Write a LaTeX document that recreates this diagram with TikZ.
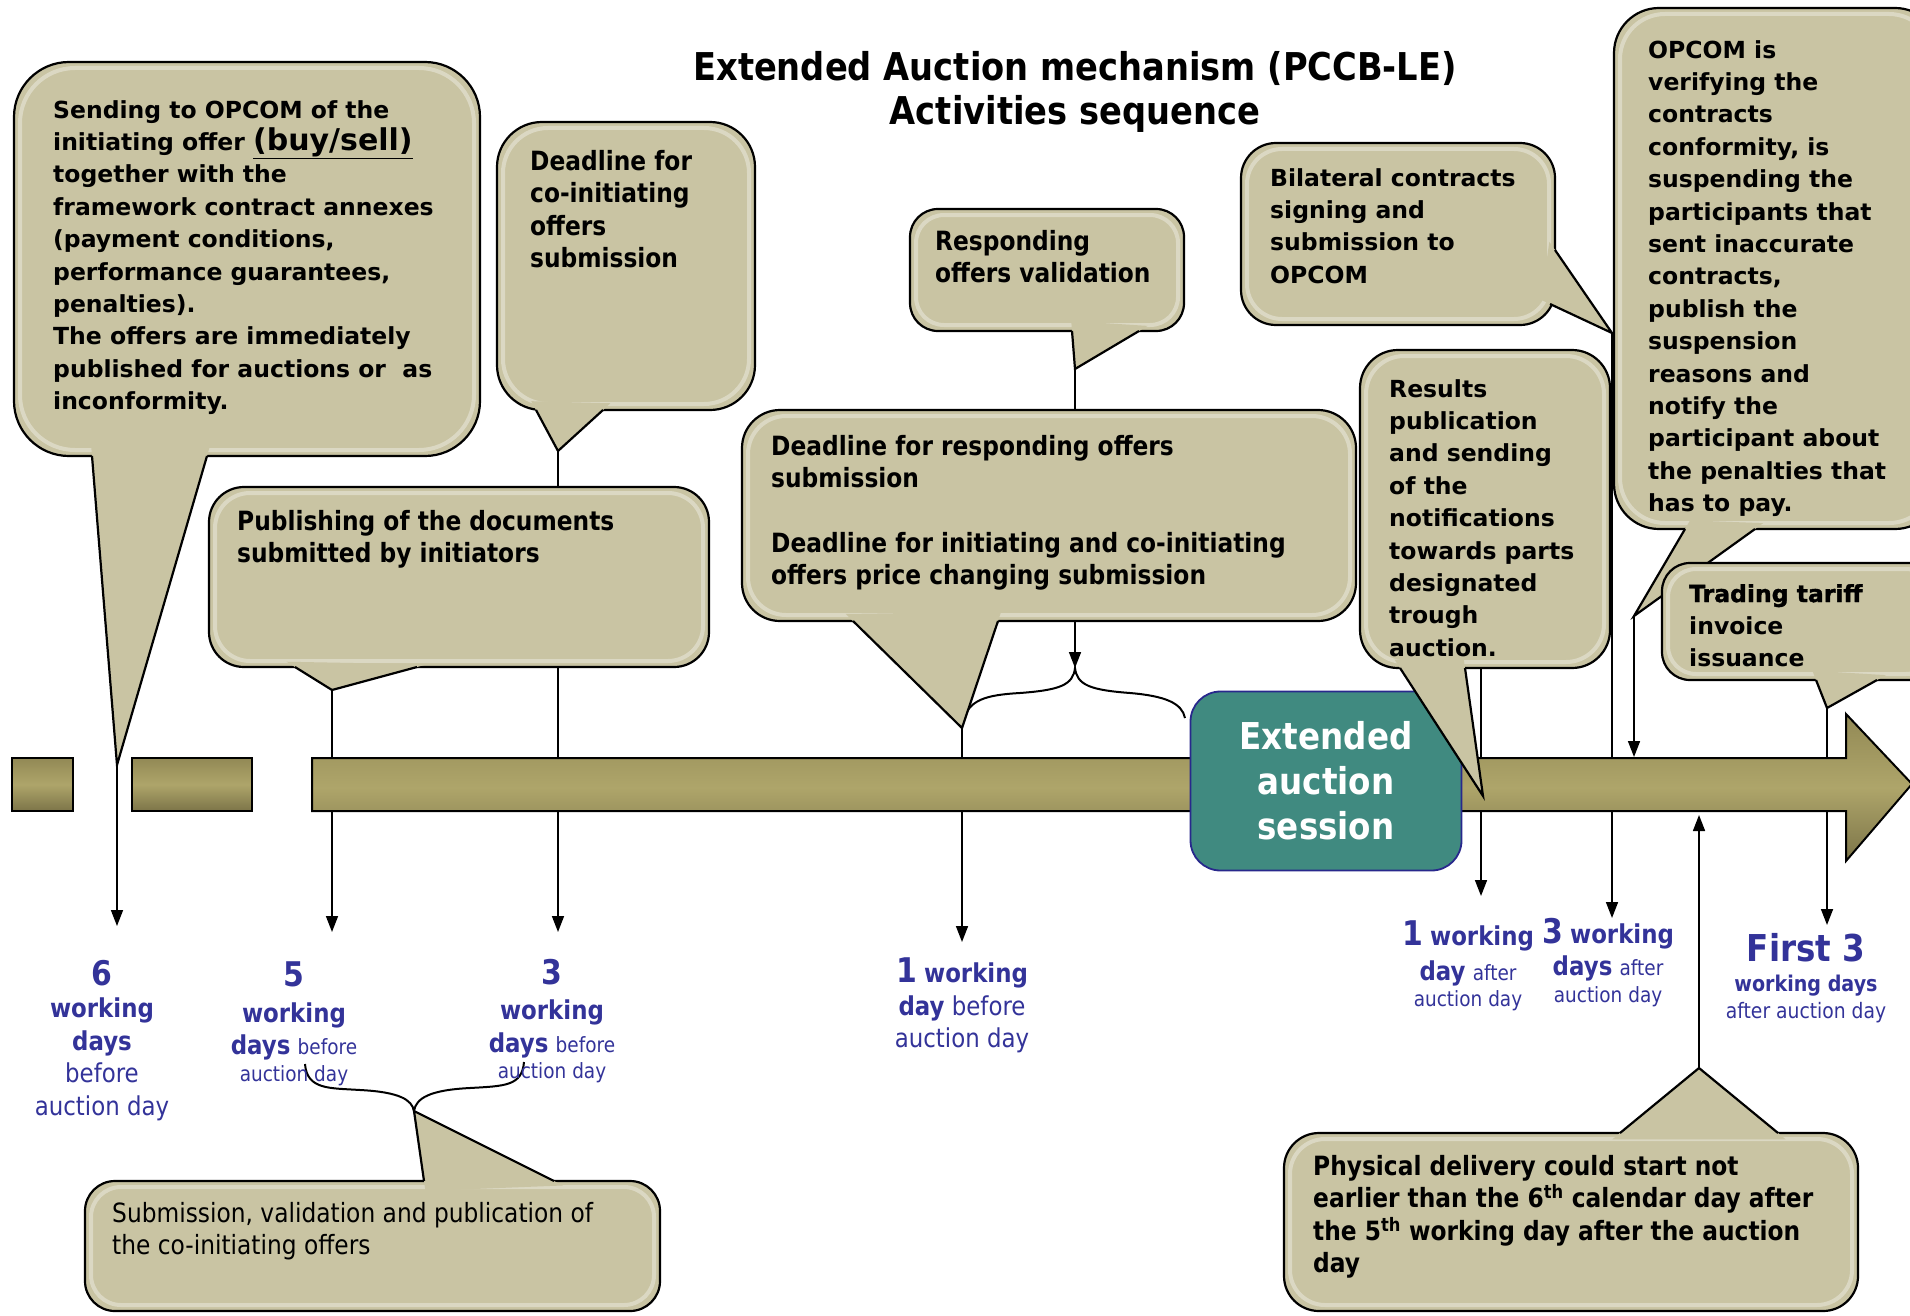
\documentclass[tikz,border=0pt]{standalone}
\usepackage{fontspec}
\setmainfont{DejaVu Sans}
\newfontfamily\condsf[FakeStretch=0.88]{DejaVu Sans}
\usetikzlibrary{calc,arrows.meta}

% callout: [corner radius]{top left}{bottom right}{tail base 1}{tail base 2}{tail tip}
\newcommand{\bubble}[6][35pt]{%
  \draw[bubble, rounded corners=#1] #2 rectangle #3;
  \draw[bubble glow, rounded corners=#1] ($#2+(6,6)$) rectangle ($#3+(-6,-6)$);
  \fill[bubblecol] ($#4!-10pt!#6$) -- #6 -- ($#5!-10pt!#6$) -- cycle;
  \draw[bubble edge] #4 -- #6 -- #5;
}

\begin{document}
\begin{tikzpicture}[x=1pt, y=-1pt,
  bubble/.style={fill=bubblecol, draw=black, line width=2.2pt},
  bubble glow/.style={draw=white, opacity=0.35, line width=4pt},
  bubble edge/.style={draw=black, line width=2.2pt, line join=miter},
  link/.style={line width=1.6pt},
  brace/.style={line width=2pt},
  boxtxt/.style={anchor=north west, inner sep=0pt, align=left,
    font=\bfseries\fontsize{23.5}{32.4}\selectfont},
  condtxt/.style={anchor=north west, inner sep=0pt, align=left,
    font=\condsf\bfseries\fontsize{26.5}{32.4}\selectfont},
  daylab/.style={anchor=north, inner sep=0pt, align=center, text=daycol,
    font=\condsf\fontsize{26}{32.5}\selectfont},
  >={Triangle[length=16pt, width=12pt]}]
  % Define colors
  \definecolor{bubblecol}{RGB}{201,196,163}
  \definecolor{barcol}{RGB}{146,137,85}
  \definecolor{barlight}{RGB}{174,165,106}
  \definecolor{sessioncol}{RGB}{64,138,128}
  \definecolor{sessionedge}{RGB}{40,40,140}
  \definecolor{daycol}{RGB}{51,51,153}

  \useasboundingbox (0,0) rectangle (1910,1316);

  % Tail tips and connector ends
  \coordinate (tipA) at (117,765);   \coordinate (endA) at (117,926);
  \coordinate (tipB) at (558,451);   \coordinate (endB) at (558,932);
  \coordinate (tipC) at (332,690);   \coordinate (endC) at (332,932);
  \coordinate (tipD) at (1075,369);  \coordinate (topE) at (1075,412);
  \coordinate (botE) at (1075,621);  \coordinate (braceE) at (1075,668);
  \coordinate (tipE) at (962,728);   \coordinate (endE) at (962,942);
  \coordinate (tipF) at (1612,333);  \coordinate (endF) at (1612,918);
  \coordinate (tipG) at (1483,796);  \coordinate (botG) at (1481,668);
  \coordinate (endG) at (1481,896);
  \coordinate (tipH) at (1634,616);  \coordinate (endH) at (1634,757);
  \coordinate (tipI) at (1827,708);  \coordinate (endI) at (1827,925);
  \coordinate (tipJ) at (414,1111);
  \coordinate (tipK) at (1699,1068); \coordinate (endK) at (1699,815);

  % Connectors
  \draw[link, ->] (tipA) -- (endA);
  \draw[link, ->] (tipB) -- (endB);
  \draw[link, ->] (tipC) -- (endC);
  \draw[link] (tipD) -- (topE);
  \draw[link, ->] (botE) -- (braceE);
  \draw[link, ->] (tipE) -- (endE);
  \draw[link, ->] (tipF) -- (endF);
  \draw[link, ->] (botG) -- (endG);
  \draw[link, ->] (tipH) -- (endH);
  \draw[link, ->] (tipI) -- (endI);
  \draw[link, ->] (tipK) -- (endK);

  % Braces
  \draw[brace] (963,722) .. controls (968,700) and (985,695) .. (1020,693)
    .. controls (1060,690) and (1073,685) .. (braceE)
    .. controls (1077,685) and (1090,690) .. (1130,693)
    .. controls (1165,696) and (1182,703) .. (1185,718);
  \draw[brace] (305,1064) .. controls (307,1090) and (330,1088) .. (360,1090)
    .. controls (400,1092) and (412,1100) .. (tipJ)
    .. controls (416,1098) and (430,1090) .. (470,1088)
    .. controls (505,1086) and (522,1086) .. (524,1062);

  % Time line
  \path[draw=black, line width=2pt, top color=barcol, bottom color=barcol!85!black,
    middle color=barlight] (12,758) rectangle (73,811);
  \path[draw=black, line width=2pt, top color=barcol, bottom color=barcol!85!black,
    middle color=barlight] (132,758) rectangle (252,811);
  \path[draw=black, line width=2pt, top color=barcol, bottom color=barcol!85!black,
    middle color=barlight] (312,758) -- (1846,758) -- (1846,714) -- (1912,784)
    -- (1846,861) -- (1846,811) -- (312,811) -- cycle;

  \node[fill=sessioncol, draw=sessionedge, line width=1.8pt, rounded corners=30pt,
    minimum width=271pt, minimum height=179pt, text=white, align=center,
    font=\condsf\bfseries\fontsize{37}{45}\selectfont] (session) at (1326,781)
    {Extended\\auction\\session};

  % Callouts
  \bubble[55pt]{(14,62)}{(480,456)}{(92,456)}{(207,456)}{(tipA)}
  \bubble[45pt]{(497,122)}{(755,410)}{(536,410)}{(603,410)}{(tipB)}
  \bubble{(209,487)}{(709,667)}{(295,667)}{(417,667)}{(tipC)}
  \bubble[28pt]{(910,209)}{(1184,331)}{(1072,331)}{(1139,331)}{(tipD)}
  \bubble[38pt]{(742,410)}{(1356,621)}{(853,621)}{(998,621)}{(tipE)}
  \bubble{(1241,143)}{(1555,325)}{(1555,250)}{(1550,304)}{(tipF)}
  \bubble[38pt]{(1360,350)}{(1610,668)}{(1400,668)}{(1465,668)}{(tipG)}
  \bubble[45pt]{(1614,8)}{(1940,529)}{(1685,529)}{(1755,529)}{(tipH)}
  \bubble[28pt]{(1662,563)}{(1940,680)}{(1816,680)}{(1877,680)}{(tipI)}
  \bubble[30pt]{(85,1181)}{(660,1311)}{(424,1181)}{(554,1181)}{(tipJ)}
  \bubble{(1284,1133)}{(1858,1311)}{(1620,1133)}{(1778,1133)}{(tipK)}

  % Callout texts
  \node[boxtxt] (sendtxt) at (53,100) {Sending to OPCOM of the\\
    initiating offer {\fontsize{30}{32.4}\selectfont\underline{(buy/sell)}}\\
    together with the\\framework contract annexes\\(payment conditions,\\
    performance guarantees,\\penalties).\\The offers are immediately\\
    published for auctions or\ \ as\\inconformity.};
  \node[condtxt] (cointxt) at (530,150) {Deadline for\\co-initiating\\offers\\submission};
  \node[condtxt] (publtxt) at (237,510) {Publishing of the documents\\submitted by initiators};
  \node[condtxt] (validtxt) at (935,230) {Responding\\offers validation};
  \node[condtxt] (deadtxt) at (771,435) {Deadline for responding offers\\submission\\[32.4pt]
    Deadline for initiating and co-initiating\\offers price changing submission};
  \node[boxtxt] (signtxt) at (1270,168) {Bilateral contracts\\signing and\\submission to\\OPCOM};
  \node[boxtxt] (resulttxt) at (1389,379) {Results\\publication\\and sending\\of the\\
    notifications\\towards parts\\designated\\trough\\auction.};
  \node[boxtxt] (checktxt) at (1648,40) {OPCOM is\\verifying the\\contracts\\conformity, is\\
    suspending the\\participants that\\sent inaccurate\\contracts,\\publish the\\suspension\\
    reasons and\\notify the\\participant about\\the penalties that\\has to pay.};
  \node[boxtxt] (tarifftxt) at (1689,584) {{\addfontfeature{FakeBold=1.5}Trading tariff}\\invoice\\issuance};
  \node[condtxt, font=\condsf\fontsize{26.5}{32.4}\selectfont] (cosubtxt) at (112,1202)
    {Submission, validation and publication of\\the co-initiating offers};
  \node[condtxt] (delivtxt) at (1313,1155) {Physical delivery could start not\\
    earlier than the 6\textsuperscript{th} calendar day after\\
    the 5\textsuperscript{th} working day after the auction\\day};

  % Day labels
  \node[daylab] (lab6) at (102,960) {{\fontsize{34}{32.5}\selectfont\bfseries 6}\\
    {\bfseries working}\\{\bfseries days}\\before\\auction day};
  \node[daylab] (lab5) at (294,962) {{\fontsize{34}{32.5}\selectfont\bfseries 5}\\[3pt]
    {\bfseries working}\\{\bfseries days} {\fontsize{21}{26}\selectfont before}\\[-6pt]
    {\fontsize{21}{26}\selectfont auction day}};
  \node[daylab] (lab3) at (552,959) {{\fontsize{34}{32.5}\selectfont\bfseries 3}\\[3pt]
    {\bfseries working}\\{\bfseries days} {\fontsize{21}{26}\selectfont before}\\[-6pt]
    {\fontsize{21}{26}\selectfont auction day}};
  \node[daylab] (lab1b) at (962,958) {{\fontsize{34}{32.5}\selectfont\bfseries 1}
    {\bfseries working}\\{\bfseries day} before\\auction day};
  \node[daylab] (lab1a) at (1468,921) {{\fontsize{34}{32.5}\selectfont\bfseries 1}
    {\bfseries working}\\[2pt]{\bfseries day} {\fontsize{21}{26}\selectfont after}\\[-6pt]
    {\fontsize{21}{26}\selectfont auction day}};
  \node[daylab] (lab3a) at (1608,918) {{\fontsize{34}{32.5}\selectfont\bfseries 3}
    {\bfseries working}\\[0pt]{\bfseries days} {\fontsize{21}{26}\selectfont after}\\[-6pt]
    {\fontsize{21}{26}\selectfont auction day}};
  \node[daylab] (labF) at (1806,933) {{\fontsize{37}{32.5}\selectfont\bfseries First 3}\\[-2pt]
    {\fontsize{21.7}{26}\selectfont\bfseries working days}\\[-6pt]
    {\fontsize{21.3}{26}\selectfont after auction day}};

  % Title
  \node[align=center, font=\condsf\bfseries\fontsize{38.3}{44}\selectfont] (title) at (1075,92)
    {Extended Auction mechanism (PCCB-LE)\\Activities sequence};
\end{tikzpicture}
\end{document}
